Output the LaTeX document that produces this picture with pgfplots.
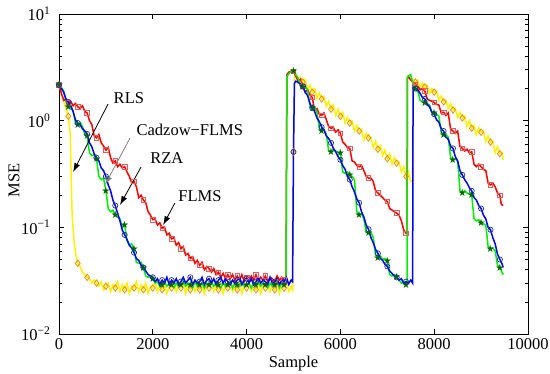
\documentclass[border=0pt]{standalone}
\usepackage{fontspec}
\setmainfont{Liberation Serif}
\newfontfamily\starfont{DejaVu Sans}
\usepackage{pgfplots}
\usepackage{pgfplotstable}
\pgfplotsset{compat=1.18}
\usetikzlibrary{arrows.meta}
\definecolor{mkorange}{RGB}{235,140,20}
\definecolor{mkred}{RGB}{235,90,90}
\definecolor{mkblue}{RGB}{30,50,150}
\definecolor{mkgreen}{RGB}{0,100,0}
\definecolor{lgreen}{RGB}{0,240,0}

\pgfplotstableread{
x y m
0 2.16 1
100 1.55 0
200 1.10 1
240 0.75 0
260 0.30 0
280 0.13 0
320 0.075 0
360 0.055 0
400 0.046 1
450 0.043 0
500 0.038 0
550 0.036 0
600 0.034 1
650 0.033 0
700 0.030 0
750 0.032 0
800 0.030 1
850 0.028 0
900 0.031 0
950 0.026 0
1000 0.028 1
1050 0.030 0
1100 0.025 0
1150 0.029 0
1200 0.027 1
1250 0.031 0
1300 0.025 0
1350 0.029 0
1400 0.026 1
1450 0.030 0
1500 0.024 0
1550 0.028 0
1600 0.027 1
1650 0.031 0
1700 0.025 0
1750 0.029 0
1800 0.026 1
1850 0.030 0
1900 0.024 0
1950 0.028 0
2000 0.027 1
2050 0.031 0
2100 0.025 0
2150 0.029 0
2200 0.026 1
2250 0.030 0
2300 0.024 0
2350 0.028 0
2400 0.027 1
2450 0.031 0
2500 0.025 0
2550 0.029 0
2600 0.027 1
2650 0.030 0
2700 0.024 0
2750 0.029 0
2800 0.026 1
2850 0.031 0
2900 0.025 0
2950 0.028 0
3000 0.026 1
3050 0.030 0
3100 0.024 0
3150 0.029 0
3200 0.027 1
3250 0.031 0
3300 0.025 0
3350 0.028 0
3400 0.026 1
3450 0.030 0
3500 0.024 0
3550 0.029 0
3600 0.027 1
3650 0.031 0
3700 0.025 0
3750 0.028 0
3800 0.026 1
3850 0.030 0
3900 0.024 0
3950 0.029 0
4000 0.027 1
4050 0.031 0
4100 0.025 0
4150 0.028 0
4200 0.026 1
4250 0.030 0
4300 0.024 0
4350 0.029 0
4400 0.027 1
4450 0.031 0
4500 0.025 0
4550 0.028 0
4600 0.026 1
4650 0.030 0
4700 0.024 0
4750 0.029 0
4800 0.027 1
4850 0.030 0
4900 0.025 0
4950 0.028 0
4980 0.026 0
5000 0.51 1
5020 2.55 0
5050 2.75 0
5100 2.4 0
5150 2.55 0
5200 2.3 1
5250 2.42 0
5300 1.95 0
5350 2.15 0
5400 1.85 1
5450 2.0 0
5500 1.62 0
5550 1.82 0
5600 1.6 1
5650 1.68 0
5700 1.36 0
5750 1.52 0
5800 1.28 1
5850 1.4 0
5900 1.12 0
5950 1.28 0
6000 1.1 1
6050 1.19 0
6100 0.95 0
6150 1.07 0
6200 0.95 1
6250 0.99 0
6300 0.80 0
6350 0.90 0
6400 0.80 1
6450 0.83 0
6500 0.66 0
6550 0.76 0
6600 0.69 1
6650 0.70 0
6700 0.56 0
6750 0.64 0
6800 0.54 1
6850 0.58 0
6900 0.47 0
6950 0.53 0
7000 0.44 1
7050 0.49 0
7100 0.39 0
7150 0.45 0
7200 0.40 1
7250 0.41 0
7300 0.33 0
7350 0.37 0
7400 0.30 1
7450 0.33 0
7500 0.27 0
7540 0.27 0
7555 2.4 0
7600 2.3 1
7650 2.4 0
7700 2.0 0
7750 2.25 0
7800 2.07 1
7850 2.15 0
7900 1.8 0
7950 2.0 0
8000 1.85 1
8050 1.9 0
8100 1.55 0
8150 1.7 0
8200 1.5 1
8250 1.55 0
8300 1.3 0
8350 1.45 0
8400 1.26 1
8450 1.3 0
8500 1.07 0
8550 1.2 0
8600 1.06 1
8650 1.1 0
8700 0.88 0
8750 1.0 0
8800 0.85 1
8850 0.9 0
8900 0.74 0
8950 0.85 0
9000 0.78 1
9050 0.80 0
9100 0.64 0
9150 0.72 0
9200 0.63 1
9250 0.64 0
9300 0.50 0
9350 0.57 0
9400 0.49 1
9450 0.50 0
9470 0.43 0
}\rls

\pgfplotstableread{
x y m
0 2.16 1
50 1.8 0
100 1.55 0
150 1.6 0
200 1.46 1
250 1.52 0
300 1.38 0
350 1.45 0
400 1.35 1
450 1.3 0
500 1.38 0
550 1.22 0
600 1.18 1
650 1.0 0
700 0.92 0
750 0.72 0
800 0.69 1
850 0.74 0
900 0.62 0
950 0.58 0
1000 0.53 1
1050 0.56 0
1100 0.45 0
1150 0.40 0
1200 0.42 1
1250 0.37 0
1300 0.39 0
1350 0.36 0
1400 0.37 1
1450 0.33 0
1500 0.30 0
1550 0.26 0
1600 0.27 1
1650 0.24 0
1700 0.19 0
1750 0.20 0
1800 0.18 1
1850 0.17 0
1900 0.14 0
1950 0.13 0
2000 0.118 1
2050 0.12 0
2100 0.105 0
2150 0.11 0
2200 0.098 1
2250 0.10 0
2300 0.085 0
2350 0.088 0
2400 0.078 1
2450 0.080 0
2500 0.068 0
2550 0.072 0
2600 0.063 1
2650 0.066 0
2700 0.055 0
2750 0.057 0
2800 0.051 1
2850 0.053 0
2900 0.046 0
2950 0.049 0
3000 0.044 1
3050 0.047 0
3100 0.040 0
3150 0.043 0
3200 0.041 1
3250 0.038 0
3300 0.041 0
3350 0.036 0
3400 0.038 1
3450 0.034 0
3500 0.037 0
3550 0.033 0
3600 0.036 1
3650 0.033 0
3700 0.036 0
3750 0.032 0
3800 0.035 1
3850 0.032 0
3900 0.036 0
3950 0.031 0
4000 0.034 1
4050 0.031 0
4100 0.035 0
4150 0.032 0
4200 0.036 1
4250 0.031 0
4300 0.034 0
4350 0.032 0
4400 0.035 1
4450 0.031 0
4500 0.034 0
4550 0.033 0
4600 0.031 1
4650 0.035 0
4700 0.032 0
4750 0.034 0
4800 0.032 1
4840 0.033 0
4860 2.7 0
4900 2.85 0
4950 2.9 0
5000 2.9 1
5050 2.6 0
5100 2.35 0
5150 2.45 0
5200 2.1 1
5250 1.85 0
5300 1.95 0
5350 1.75 0
5400 1.65 1
5450 1.25 0
5500 1.3 0
5550 1.15 0
5600 1.12 1
5650 1.18 0
5700 1.02 0
5750 0.88 0
5800 0.85 1
5850 0.86 0
5900 0.78 0
5950 0.82 0
6000 0.76 1
6050 0.63 0
6100 0.60 0
6150 0.56 0
6200 0.55 1
6250 0.42 0
6300 0.41 0
6350 0.38 0
6400 0.37 1
6450 0.38 0
6500 0.34 0
6550 0.30 0
6600 0.29 1
6650 0.29 0
6700 0.27 0
6750 0.22 0
6800 0.21 1
6850 0.20 0
6900 0.19 0
6950 0.18 0
7000 0.175 1
7050 0.15 0
7100 0.145 0
7150 0.14 0
7200 0.136 1
7250 0.13 0
7300 0.115 0
7350 0.095 0
7400 0.088 1
7420 0.09 0
7430 2.5 0
7450 2.6 0
7500 2.4 0
7550 2.3 0
7600 2.2 1
7650 2.1 0
7700 1.95 0
7750 2.0 0
7800 1.9 1
7850 1.6 0
7900 1.55 0
7950 1.52 0
8000 1.48 1
8050 1.42 0
8100 1.4 0
8150 1.18 0
8200 1.2 1
8250 1.12 0
8300 1.18 0
8350 0.83 0
8400 0.80 1
8450 0.76 0
8500 0.80 0
8550 0.57 0
8600 0.55 1
8650 0.52 0
8700 0.54 0
8750 0.50 0
8800 0.51 1
8850 0.39 0
8900 0.37 0
8950 0.39 0
9000 0.37 1
9050 0.35 0
9100 0.34 0
9150 0.26 0
9200 0.25 1
9250 0.26 0
9300 0.24 0
9350 0.21 0
9400 0.20 1
9430 0.165 0
9470 0.16 0
}\flms

\pgfplotstableread{
x y m
0 2.16 1
50 2.05 0
100 1.9 0
150 1.55 0
200 1.35 1
250 1.3 0
300 1.25 0
350 0.95 0
400 0.92 1
450 0.96 0
500 0.88 0
550 0.75 0
600 0.72 1
650 0.50 0
700 0.47 0
750 0.48 0
800 0.44 1
850 0.30 0
900 0.28 0
950 0.29 0
1000 0.22 1
1050 0.15 0
1100 0.14 0
1150 0.145 0
1200 0.13 1
1250 0.125 0
1300 0.12 0
1350 0.10 0
1400 0.105 1
1450 0.075 0
1500 0.068 0
1550 0.07 0
1600 0.063 1
1650 0.047 0
1700 0.046 0
1750 0.047 0
1800 0.042 1
1850 0.035 0
1900 0.034 0
1950 0.035 0
2000 0.033 1
2050 0.030 0
2100 0.031 0
2150 0.028 0
2200 0.029 1
2250 0.031 0
2300 0.028 0
2350 0.030 0
2400 0.029 1
2450 0.027 0
2500 0.030 0
2550 0.028 0
2600 0.029 1
2650 0.031 0
2700 0.028 0
2750 0.030 0
2800 0.029 1
2850 0.027 0
2900 0.031 0
2950 0.028 0
3000 0.029 1
3050 0.030 0
3100 0.027 0
3150 0.030 0
3200 0.029 1
3250 0.031 0
3300 0.028 0
3350 0.030 0
3400 0.029 1
3450 0.027 0
3500 0.030 0
3550 0.028 0
3600 0.029 1
3650 0.031 0
3700 0.027 0
3750 0.030 0
3800 0.029 1
3850 0.028 0
3900 0.031 0
3950 0.028 0
4000 0.029 1
4050 0.030 0
4100 0.027 0
4150 0.030 0
4200 0.029 1
4250 0.031 0
4300 0.028 0
4350 0.030 0
4400 0.029 1
4450 0.027 0
4500 0.030 0
4550 0.028 0
4600 0.029 1
4650 0.031 0
4700 0.027 0
4750 0.030 0
4800 0.029 1
4840 0.029 0
4860 2.6 0
4900 2.75 0
4950 2.9 0
5000 2.9 1
5050 2.7 0
5100 2.5 0
5150 2.1 0
5200 2.07 1
5250 2.1 0
5300 1.95 0
5350 1.4 0
5400 1.31 1
5450 1.35 0
5500 1.2 0
5550 0.85 0
5600 0.8 1
5650 0.82 0
5700 0.75 0
5750 0.52 0
5800 0.51 1
5850 0.54 0
5900 0.52 0
5950 0.50 0
6000 0.50 1
6050 0.33 0
6100 0.32 0
6150 0.33 0
6200 0.31 1
6250 0.30 0
6300 0.28 0
6350 0.14 0
6400 0.13 1
6450 0.135 0
6500 0.12 0
6550 0.09 0
6600 0.088 1
6650 0.09 0
6700 0.08 0
6750 0.055 0
6800 0.052 1
6850 0.054 0
6900 0.05 0
6950 0.051 0
7000 0.048 1
7050 0.036 0
7100 0.035 0
7150 0.036 0
7200 0.034 1
7250 0.032 0
7300 0.030 0
7350 0.031 0
7400 0.029 1
7420 0.029 0
7430 2.6 0
7500 2.7 0
7550 2.2 0
7600 2.0 1
7650 1.9 0
7700 1.55 0
7750 1.5 0
7800 1.46 1
7850 1.45 0
7900 1.4 0
7950 1.2 0
8000 1.18 1
8050 1.15 0
8100 1.1 0
8150 0.78 0
8200 0.73 1
8250 0.74 0
8300 0.70 0
8350 0.45 0
8400 0.43 1
8450 0.44 0
8500 0.42 0
8550 0.22 0
8600 0.21 1
8650 0.22 0
8700 0.21 0
8750 0.205 0
8800 0.20 1
8850 0.12 0
8900 0.115 0
8950 0.118 0
9000 0.11 1
9050 0.108 0
9100 0.105 0
9150 0.066 0
9200 0.063 1
9250 0.064 0
9300 0.060 0
9350 0.044 0
9400 0.042 1
9470 0.036 0
}\cadzow

\pgfplotstableread{
x y m
0 2.16 1
50 2.0 0
100 1.85 0
150 1.58 0
200 1.5 1
250 1.38 0
300 1.22 0
350 1.02 0
400 0.95 1
450 0.92 0
500 0.84 0
550 0.80 0
600 0.75 1
650 0.62 0
700 0.57 0
750 0.49 0
800 0.45 1
850 0.42 0
900 0.36 0
950 0.34 0
1000 0.30 1
1050 0.25 0
1100 0.22 0
1150 0.18 0
1200 0.16 1
1250 0.135 0
1300 0.115 0
1350 0.094 0
1400 0.085 1
1450 0.077 0
1500 0.068 0
1550 0.064 0
1600 0.058 1
1650 0.051 0
1700 0.049 0
1750 0.044 0
1800 0.042 1
1850 0.039 0
1900 0.036 0
1950 0.035 0
2000 0.034 1
2050 0.031 0
2100 0.033 0
2150 0.029 0
2200 0.032 1
2250 0.030 0
2300 0.034 0
2350 0.029 0
2400 0.032 1
2450 0.030 0
2500 0.033 0
2550 0.029 0
2600 0.031 1
2650 0.034 0
2700 0.030 0
2750 0.032 0
2800 0.034 1
2850 0.029 0
2900 0.032 0
2950 0.030 0
3000 0.031 1
3050 0.034 0
3100 0.029 0
3150 0.032 0
3200 0.033 1
3250 0.030 0
3300 0.033 0
3350 0.029 0
3400 0.032 1
3450 0.034 0
3500 0.030 0
3550 0.033 0
3600 0.031 1
3650 0.029 0
3700 0.032 0
3750 0.030 0
3800 0.032 1
3850 0.034 0
3900 0.029 0
3950 0.032 0
4000 0.033 1
4050 0.030 0
4100 0.033 0
4150 0.029 0
4200 0.031 1
4250 0.034 0
4300 0.030 0
4350 0.032 0
4400 0.031 1
4450 0.029 0
4500 0.034 0
4550 0.030 0
4600 0.031 1
4650 0.033 0
4700 0.029 0
4750 0.032 0
4800 0.031 1
4850 0.034 0
4900 0.029 0
4950 0.032 0
4980 0.031 0
5000 0.51 1
5020 2.25 0
5050 2.35 0
5100 2.28 0
5150 2.2 0
5200 2.1 1
5250 1.85 0
5300 1.72 0
5350 1.45 0
5400 1.31 1
5450 1.22 0
5500 1.06 0
5550 0.98 0
5600 0.87 1
5650 0.82 0
5700 0.72 0
5750 0.68 0
5800 0.62 1
5850 0.55 0
5900 0.51 0
5950 0.46 0
6000 0.43 1
6050 0.38 0
6100 0.35 0
6150 0.30 0
6200 0.28 1
6250 0.24 0
6300 0.215 0
6350 0.185 0
6400 0.17 1
6450 0.14 0
6500 0.125 0
6550 0.105 0
6600 0.096 1
6650 0.080 0
6700 0.072 0
6750 0.062 0
6800 0.057 1
6850 0.051 0
6900 0.049 0
6950 0.045 0
7000 0.043 1
7050 0.039 0
7100 0.037 0
7150 0.035 0
7200 0.034 1
7250 0.032 0
7300 0.033 0
7350 0.030 0
7400 0.031 1
7450 0.030 0
7500 0.032 0
7540 0.030 0
7550 2.1 0
7600 2.0 1
7650 1.95 0
7700 1.8 0
7750 1.65 0
7800 1.6 1
7850 1.42 0
7900 1.35 0
7950 1.2 0
8000 1.15 1
8050 1.02 0
8100 0.97 0
8150 0.84 0
8200 0.80 1
8250 0.70 0
8300 0.67 0
8350 0.58 0
8400 0.55 1
8450 0.46 0
8500 0.42 0
8550 0.34 0
8600 0.31 1
8650 0.28 0
8700 0.26 0
8750 0.235 0
8800 0.22 1
8850 0.19 0
8900 0.18 0
8950 0.16 0
9000 0.15 1
9050 0.13 0
9100 0.12 0
9150 0.10 0
9200 0.095 1
9250 0.08 0
9300 0.07 0
9350 0.056 0
9400 0.05 1
9450 0.045 0
9470 0.042 0
}\rza

\begin{document}
\fontsize{16.5}{19}\selectfont
\begin{tikzpicture}[x=1pt,y=1pt]
\useasboundingbox (-59,-39) rectangle (491,334);
\begin{axis}[
  at={(0,0)}, anchor=south west,
  width=469pt, height=320pt, scale only axis,
  xmin=0, xmax=10000, ymin=0.01, ymax=10,
  ymode=log,
  xtick={0,2000,4000,6000,8000,10000},
  scaled x ticks=false,
  ytick={0.01,0.1,1,10},
  yticklabels={10\textsuperscript{−2},10\textsuperscript{−1},10\textsuperscript{0},10\textsuperscript{1}},
  minor ytick={0.02,0.03,0.04,0.05,0.06,0.07,0.08,0.09,0.2,0.3,0.4,0.5,0.6,0.7,0.8,0.9,2,3,4,5,6,7,8,9},
  /pgf/number format/1000 sep={},
  /pgf/number format/assume math mode=true,
  tick align=inside,
  major tick length=5pt, minor tick length=3pt,
  tick style={black, line width=0.6pt},
  axis line style={line width=0.9pt},
  ticklabel style={font=\fontsize{16.5}{19}\selectfont},
  xticklabel style={yshift=1.5pt},
  yticklabel style={xshift=-3pt},
  xlabel={Sample}, ylabel={MSE},
  label style={font=\fontsize{16.5}{19}\selectfont},
  xlabel style={at={(axis description cs:0.5,0)}, anchor=base, yshift=-33pt},
  ylabel style={at={(axis description cs:-0.096,0.48)}, anchor=center, rotate=0},
  clip=true,
]
\addplot[yellow, line width=1.5pt] table[x=x,y=y]{\rls};
\addplot[red, line width=1.5pt] table[x=x,y=y]{\flms};
\addplot[lgreen, line width=1.5pt] table[x=x,y=y]{\cadzow};
\addplot[blue, line width=1.5pt] table[x=x,y=y]{\rza};

\addplot[only marks, mark=diamond, mark size=3.2pt, mark options={draw=mkorange, line width=0.8pt, fill=none}, restrict expr to domain={\thisrow{m}}{0.5:1.5}] table[x=x,y=y]{\rls};
\addplot[only marks, mark=square, mark size=2.3pt, mark options={draw=mkred, line width=0.7pt, fill=none}, restrict expr to domain={\thisrow{m}}{0.5:1.5}] table[x=x,y=y]{\flms};
\addplot[only marks, mark=text, text mark={\fontsize{10}{10}\starfont\color{mkgreen}★}, restrict expr to domain={\thisrow{m}}{0.5:1.5}] table[x=x,y=y]{\cadzow};
\addplot[only marks, mark=o, mark size=2.6pt, mark options={draw=mkblue, line width=0.7pt, fill=none}, restrict expr to domain={\thisrow{m}}{0.5:1.5}] table[x=x,y=y]{\rza};

\node at (axis cs:1490,1.63) {RLS};
\draw[black, line width=0.8pt, -{Latex[length=9pt,width=6pt]}] (axis cs:1045,1.43) -- (axis cs:300,0.33);
\node at (axis cs:2790,0.818) {Cadzow−FLMS};
\draw[gray, line width=0.8pt, -{Latex[length=9pt,width=6pt]}] (axis cs:1515,0.688) -- (axis cs:980,0.25);
\node at (axis cs:2300,0.447) {RZA};
\draw[black, line width=0.8pt, -{Latex[length=9pt,width=6pt]}] (axis cs:1750,0.368) -- (axis cs:1300,0.162);
\node at (axis cs:3006,0.197) {FLMS};
\draw[black, line width=0.8pt, -{Latex[length=9pt,width=6pt]}] (axis cs:2470,0.169) -- (axis cs:2220,0.105);
\end{axis}
\end{tikzpicture}
\end{document}
